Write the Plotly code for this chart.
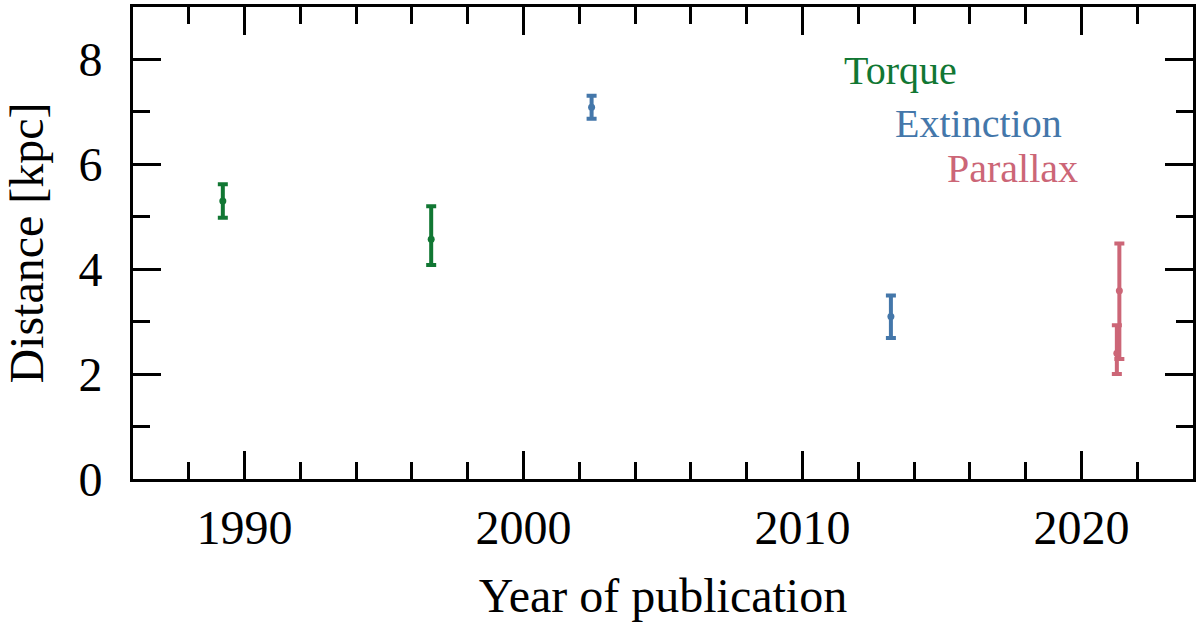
import plotly.graph_objects as go

# Data
torque_year = [1989.22, 1996.69]
torque_dist = [5.30, 4.57]
torque_err_plus = [0.32, 0.63]
torque_err_minus = [0.32, 0.49]

ext_year = [2002.44, 2013.17]
ext_dist = [7.09, 3.10]
ext_err_plus = [0.22, 0.40]
ext_err_minus = [0.22, 0.41]

par_year = [2021.36, 2021.27]
par_dist = [3.59, 2.40]
par_err_plus = [0.90, 0.53]
par_err_minus = [1.30, 0.40]

labels = ["Torque", "Extinction", "Parallax"]
colors = ["#117733", "#4477AA", "#CC6677"]

FONT = "Liberation Serif"

fig = go.Figure()
series = [
    (torque_year, torque_dist, torque_err_plus, torque_err_minus),
    (ext_year, ext_dist, ext_err_plus, ext_err_minus),
    (par_year, par_dist, par_err_plus, par_err_minus),
]
for (x, y, ep, em), name, c in zip(series, labels, colors):
    fig.add_trace(go.Scatter(
        x=x, y=y, mode="markers", name=name,
        marker=dict(color=c, size=7),
        error_y=dict(type="data", array=ep, arrayminus=em, symmetric=False,
                     color=c, thickness=4, width=5),
        showlegend=False,
    ))

# Text labels (legend-like), positions in pixels of the 1200x623 canvas
PL, PR, PT, PB = 133, 1193, 7, 479
label_pos = [(900, 71), (978, 123), (1012, 168)]
for name, c, (px, py) in zip(labels, colors, label_pos):
    fig.add_annotation(
        x=(px - PL) / (PR - PL), y=(PB - py) / (PB - PT),
        xref="paper", yref="paper",
        text=name, showarrow=False, xanchor="center", yanchor="middle",
        font=dict(family=FONT, size=40, color=c),
    )

axis_common = dict(
    showline=True, linecolor="black", linewidth=3, mirror="ticks",
    ticks="inside", ticklen=28, tickwidth=3, tickcolor="black",
    showgrid=False, zeroline=False, automargin=False,
    tickfont=dict(family=FONT, size=48, color="black"),
    title_font=dict(family=FONT, size=48, color="black"),
)

fig.update_xaxes(
    range=[1986, 2024], tick0=1990, dtick=10,
    minor=dict(ticks="inside", ticklen=17, tickwidth=3, tickcolor="black",
               dtick=2, tick0=1990, showgrid=False),
    title_text="Year of publication", title_standoff=26,
    ticklabelstandoff=4,
    **axis_common,
)
fig.update_yaxes(
    range=[0, 9], tick0=0, dtick=2,
    minor=dict(ticks="inside", ticklen=17, tickwidth=3, tickcolor="black",
               dtick=1, tick0=0, showgrid=False),
    title_text="Distance [kpc]", title_standoff=32,
    ticklabelstandoff=18,
    **axis_common,
)

fig.update_layout(
    width=1200, height=623,
    margin=dict(l=PL, r=1200 - PR, t=PT, b=623 - PB, autoexpand=False),
    plot_bgcolor="white", paper_bgcolor="white",
    font=dict(family=FONT, color="black"),
)

fig.write_html(
    "out.html",
    config={"displayModeBar": False},
    post_script="document.body.style.margin='0';document.body.style.overflow='hidden';",
)
